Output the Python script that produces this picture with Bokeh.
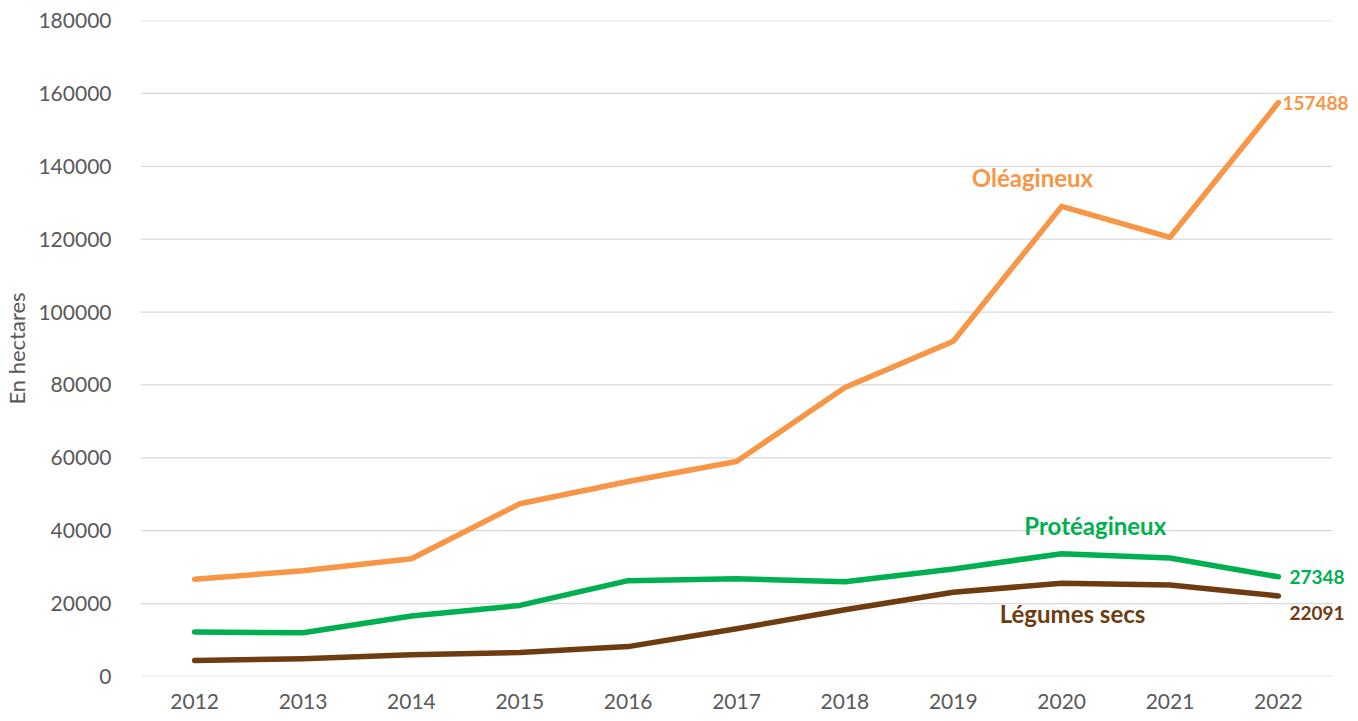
from bokeh.plotting import figure
from bokeh.models import Range1d, FixedTicker, Label, BasicTickFormatter
from bokeh.embed import file_html
from bokeh.resources import INLINE

years = [2012, 2013, 2014, 2015, 2016, 2017, 2018, 2019, 2020, 2021, 2022]
oleagineux = [26700, 29000, 32300, 47400, 53500, 59000, 79300, 92000, 129000, 120500, 157488]
proteagineux = [12200, 12000, 16600, 19500, 26300, 26800, 26000, 29500, 33700, 32500, 27348]
legumes_secs = [4400, 4900, 6000, 6600, 8200, 13100, 18300, 23100, 25600, 25100, 22091]
y_ticks = [0, 20000, 40000, 60000, 80000, 100000, 120000, 140000, 160000, 180000]
series_names = ["Oléagineux", "Protéagineux", "Légumes secs"]

C_OLE = "#F79646"
C_PRO = "#00B050"
C_LEG = "#6E3C11"
FONT = "Lato"

W, H = 1350, 713
X0, X1 = 2011.5, 2022.5          # category band edges (grid extent)
FRAME_L = 133
band = 1199 / 11
x_end = X0 + (W - FRAME_L) / band  # frame extended right so end labels are not clipped

p = figure(width=W, height=H, output_backend="svg", toolbar_location=None,
           x_range=Range1d(X0, x_end), y_range=Range1d(0, 180000),
           min_border_left=FRAME_L, min_border_right=0, min_border_top=20, min_border_bottom=37)
p.outline_line_color = None
p.xgrid.grid_line_color = None
p.ygrid.grid_line_color = None

# horizontal gridlines limited to the category area
p.segment(x0=[X0] * len(y_ticks), x1=[X1] * len(y_ticks), y0=y_ticks, y1=y_ticks,
          line_color="#D9D9D9", line_width=1.3)

p.yaxis.ticker = FixedTicker(ticks=y_ticks)
p.yaxis.formatter = BasicTickFormatter(use_scientific=False)
p.xaxis.ticker = FixedTicker(ticks=years)
for ax in (p.xaxis, p.yaxis):
    ax.axis_line_color = None
    ax.major_tick_line_color = None
    ax.minor_tick_line_color = None
    ax.major_label_text_font = FONT
    ax.major_label_text_font_size = "21px"
    ax.major_label_text_color = "#595959"
p.yaxis.major_label_standoff = 23
p.xaxis.major_label_standoff = 11
p.yaxis.axis_label = "En hectares"
p.yaxis.axis_label_text_font = FONT
p.yaxis.axis_label_text_font_style = "normal"
p.yaxis.axis_label_text_font_size = "22px"
p.yaxis.axis_label_text_color = "#595959"
p.yaxis.axis_label_standoff = 5

for vals, col in ((oleagineux, C_OLE), (proteagineux, C_PRO), (legumes_secs, C_LEG)):
    p.line(years, vals, line_color=col, line_width=5.5, line_join="round", line_cap="round")

def lab(x, y, text, color, size="19px", align="left", xo=0, yo=0):
    p.add_layout(Label(x=x, y=y, x_units="data", y_units="data", text=text,
                       x_offset=xo, y_offset=yo, text_color=color, text_font=FONT,
                       text_font_style="bold", text_font_size=size,
                       text_align=align, text_baseline="middle"))

# end value labels
lab(years[-1], oleagineux[-1], str(oleagineux[-1]), C_OLE, xo=4)
lab(years[-1], proteagineux[-1], str(proteagineux[-1]), C_PRO, xo=11)
lab(years[-1], legumes_secs[-1], str(legumes_secs[-1]), C_LEG, xo=11, yo=-17)

# series names
lab(2019.73, 137000, series_names[0], C_OLE, size="24px", align="center")
lab(2020.31, 41400, series_names[1], C_PRO, size="24px", align="center")
lab(2020.1, 17300, series_names[2], C_LEG, size="24px", align="center")

open("out.html", "w").write(file_html(p, INLINE))
